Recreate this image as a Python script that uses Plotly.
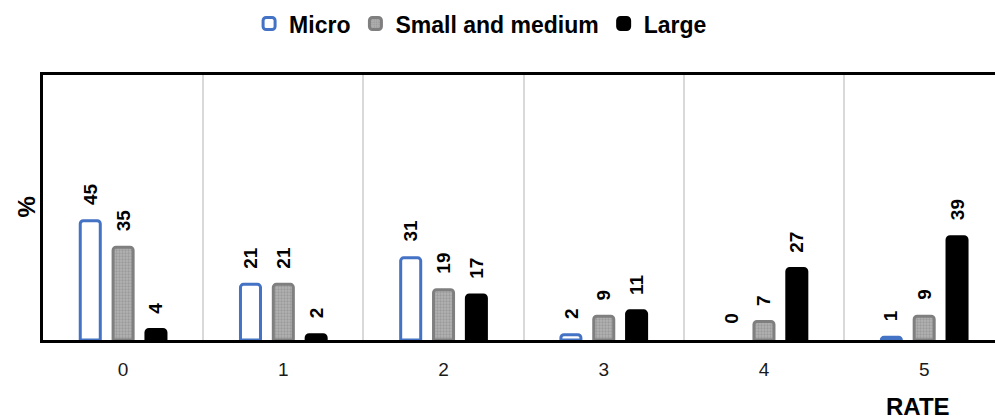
import plotly.graph_objects as go

# Distribution of firms by rate, per size class (%)
rates = ["0", "1", "2", "3", "4", "5"]
series_names = ["Micro", "Small and medium", "Large"]
micro = [45, 21, 31, 2, 0, 1]
small_medium = [35, 21, 19, 9, 7, 9]
large = [4, 2, 17, 11, 27, 39]

values = [micro, small_medium, large]
offsets = [-0.205, 0.0, 0.205]          # group position of each series inside a category
bar_w = 0.125
FONT = "Liberation Sans, Arial, sans-serif"

fills = ["#ffffff", "#a9a9a9", "#000000"]
edges = ["#4472C4", "#7f7f7f", "#000000"]
texture = [None,
           dict(shape=".", fgcolor="#9a9a9a", bgcolor="#b3b3b3",
                size=3, solidity=0.45, fillmode="replace"),
           None]

xpos = list(range(len(rates)))

fig = go.Figure()
for name, vals, off, fc, ec, pat in zip(series_names, values, offsets, fills, edges, texture):
    marker = dict(
        color=fc, cornerradius=3,
        # empty bars get no outline so nothing shows at the baseline
        line=dict(color=ec, width=[3 if v > 0 else 0 for v in vals]),
    )
    if pat:
        marker["pattern"] = pat
    fig.add_trace(go.Bar(
        x=[x + off for x in xpos],
        y=vals,
        width=bar_w,
        name=name,
        marker=marker,
        hoverinfo="x+y+name",
    ))

# rotated value labels above each bar
annotations = []
for vals, off in zip(values, offsets):
    for x, v in zip(xpos, vals):
        annotations.append(dict(
            x=x + off, y=v, xref="x", yref="y",
            text=f"<b>{v}</b>", showarrow=False, textangle=-90,
            xanchor="center", yanchor="bottom", yshift=14,
            font=dict(family=FONT, size=19, color="#000000"),
        ))

# y-axis unit
annotations.append(dict(
    x=0, y=0.5, xref="paper", yref="paper", xshift=-17,
    text="<b>%</b>", showarrow=False, textangle=-90,
    xanchor="center", yanchor="middle",
    font=dict(family=FONT, size=24, color="#000000"),
))
# x-axis title under the last category
annotations.append(dict(
    x=5, y=0, xref="x", yref="paper", xshift=-6, yshift=-66,
    text="<b>RATE</b>", showarrow=False,
    xanchor="center", yanchor="middle",
    font=dict(family=FONT, size=24, color="#000000"),
))

fig.update_layout(
    width=995, height=419,
    margin=dict(l=43, r=0, t=75, b=79),
    paper_bgcolor="#ffffff", plot_bgcolor="#ffffff",
    barmode="overlay",
    showlegend=True,
    legend=dict(
        orientation="h", xref="container", yref="container",
        x=0.483, xanchor="center", y=0.995, yanchor="top",
        font=dict(family=FONT, size=23, color="#000000", weight="bold"),
        itemwidth=30, traceorder="normal",
    ),
    annotations=annotations,
    font=dict(family=FONT, color="#000000"),
)

fig.update_xaxes(
    range=[-0.5, 5.442],
    tickmode="array", tickvals=xpos, ticktext=rates,
    ticks="", showgrid=False, zeroline=False,
    showline=True, linecolor="#000000", linewidth=3, mirror=True,
    tickfont=dict(family=FONT, size=19, color="#1a1a1a"),
    ticklabelstandoff=10,
    minor=dict(tickmode="linear", tick0=0.5, dtick=1, showgrid=True,
               gridcolor="#d9d9d9", gridwidth=2, ticks=""),
)
fig.update_yaxes(
    range=[0, 100], showticklabels=False, ticks="",
    showgrid=False, zeroline=False,
    showline=True, linecolor="#000000", linewidth=2.5,
)

fig.write_html("out.html")
